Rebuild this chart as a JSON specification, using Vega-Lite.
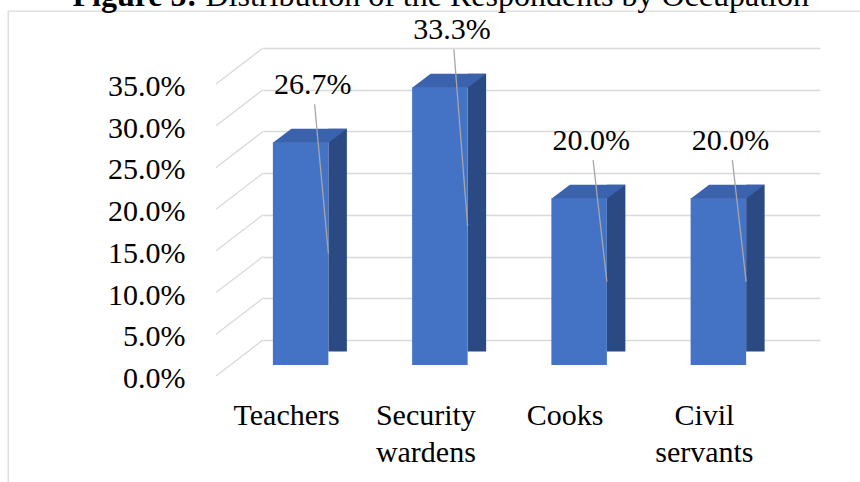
{
  "$schema": "https://vega.github.io/schema/vega-lite/v6.json",
  "autosize": {"type": "none"},
  "padding": {"left": 8, "top": 11, "right": -2, "bottom": -2},
  "width": 854,
  "height": 473,
  "background": "white",
  "config": {
    "view": {"stroke": "#d9d9d9", "strokeWidth": 1.3},
    "font": "Liberation Serif",
    "axis": {"labelFont": "Liberation Serif", "titleFont": "Liberation Serif", "labelColor": "#000000", "titleColor": "#000000", "titleFontWeight": "normal"}
  },
  "datasets": {
    "occupation": [
      {"category": "Teachers", "value": 0.267},
      {"category": "Security wardens", "value": 0.333},
      {"category": "Cooks", "value": 0.2},
      {"category": "Civil servants", "value": 0.2}
    ],
    "ticks": [
      {"tick": 0}, {"tick": 0.05}, {"tick": 0.1}, {"tick": 0.15},
      {"tick": 0.2}, {"tick": 0.25}, {"tick": 0.3}, {"tick": 0.35}
    ]
  },
  "layer": [
    {
      "data": {"name": "occupation"},
      "layer": [
        {
          "data": {"name": "ticks"},
          "mark": {"type": "rule", "color": "#d9d9d9", "strokeWidth": 1.3, "xOffset": -116.6, "x2Offset": -69.6, "yOffset": 36, "y2Offset": 0},
          "encoding": {
            "x": {"datum": "Teachers", "type": "nominal"},
            "x2": {"datum": "Teachers"},
            "y": {"field": "tick", "type": "quantitative", "title": null},
            "y2": {"field": "tick"}
          }
        },
        {
          "mark": {"type": "bar", "width": 18.5, "xOffset": 5, "yOffset": 11.5, "y2Offset": 25, "color": "#2B4A83"},
          "encoding": {
            "x": {"field": "category", "type": "nominal"},
            "y": {"field": "value", "type": "quantitative", "title": null}
          }
        },
        {
          "mark": {"type": "bar", "width": 55.5, "xOffset": -32, "yOffset": 25, "y2Offset": 25, "color": "#4472C4"},
          "encoding": {
            "x": {
              "field": "category", "type": "nominal",
              "sort": ["Teachers", "Security wardens", "Cooks", "Civil servants"],
              "scale": {"type": "band", "domain": ["Teachers", "Security wardens", "Cooks", "Civil servants"], "range": [255, 812], "paddingInner": 0, "paddingOuter": 0},
              "title": "Distribution of the Respondents by Occupation",
              "axis": {
                "offset": -144, "ticks": false, "tickSize": 0, "domain": false, "grid": false,
                "labelAngle": 0, "labelFontSize": 30, "labelPadding": 60, "labelOffset": -46,
                "labelBaseline": "top", "labelAlign": "center", "labelLineHeight": 37,
                "labelExpr": "split(datum.label, ' ')",
                "title": "Distribution of the Respondents by Occupation",
                "titleFontSize": 32, "titleX": 197, "titleY": -334.5, "titleAlign": "left",
                "titleBaseline": "alphabetic", "titleAngle": 0
              }
            },
            "y": {
              "field": "value", "type": "quantitative",
              "scale": {"domain": [0, 0.35], "range": [329, 37], "nice": false, "zero": true},
              "axis": {
                "values": [0, 0.05, 0.1, 0.15, 0.2, 0.25, 0.3, 0.35],
                "format": ".1%", "offset": -177, "ticks": false, "tickSize": 0, "domain": false,
                "grid": true, "gridColor": "#d9d9d9", "gridWidth": 1.3,
                "labelFontSize": 30, "labelPadding": 0, "labelOffset": 38.5,
                "labelFlush": false, "labelOverlap": false, "labelBaseline": "middle",
                "title": "Percentage", "titleFontSize": 30, "titleX": -98, "titleY": 219,
                "titleAngle": -90, "titleAlign": "center", "titleBaseline": "alphabetic"
              }
            }
          }
        },
        {
          "mark": {"type": "point", "shape": "M 0 0.3 L 19 -13.6 L 19 2 L 0 2 Z", "size": 4, "filled": true, "fill": "white", "opacity": 1, "strokeWidth": 0, "xOffset": -4.25, "yOffset": 25},
          "encoding": {
            "x": {"field": "category", "type": "nominal"},
            "y": {"datum": 0, "type": "quantitative"}
          }
        },
        {
          "mark": {"type": "point", "shape": "M -27.75 0.5 L 27.75 0.5 L 46.25 -13.5 L -9.25 -13.5 Z", "size": 4, "filled": true, "fill": "#3A62AD", "opacity": 1, "strokeWidth": 0, "xOffset": -32, "yOffset": 25},
          "encoding": {
            "x": {"field": "category", "type": "nominal"},
            "y": {"field": "value", "type": "quantitative", "title": null}
          }
        },
        {
          "mark": {"type": "text", "fontSize": 30, "font": "Liberation Serif", "color": "#000000", "dx": -20, "dy": -32, "baseline": "middle", "align": "center"},
          "encoding": {
            "x": {"field": "category", "type": "nominal"},
            "y": {"field": "value", "type": "quantitative", "title": null},
            "text": {"field": "value", "format": ".1%"}
          }
        }
      ]
    },
    {
      "data": {"name": "occupation"},
      "transform": [
        {"fold": ["value", "value"], "as": ["k", "v"]},
        {"stack": "v", "groupby": ["category"], "as": ["v0", "v1"]},
        {"filter": "datum.v0 > 0"}
      ],
      "mark": {"type": "rule", "color": "#a6a6a6", "strokeWidth": 1.3, "xOffset": -18, "x2Offset": -4.25, "yOffset": -13, "y2Offset": 25},
      "encoding": {
        "x": {"field": "category", "type": "nominal"},
        "x2": {"field": "category"},
        "y": {
          "field": "v1", "type": "quantitative",
          "scale": {"domain": [0, 0.7], "range": [329, 37], "nice": false, "zero": true},
          "axis": {
            "orient": "left", "labels": false, "ticks": false, "domain": false, "grid": false,
            "title": "Figure 5:", "titleFontSize": 32, "titleFontWeight": "bold",
            "titleX": 64, "titleY": -5.5, "titleAngle": 0, "titleAlign": "left", "titleBaseline": "alphabetic"
          }
        },
        "y2": {"field": "v0"}
      }
    }
  ],
  "resolve": {"scale": {"y": "independent"}}
}
